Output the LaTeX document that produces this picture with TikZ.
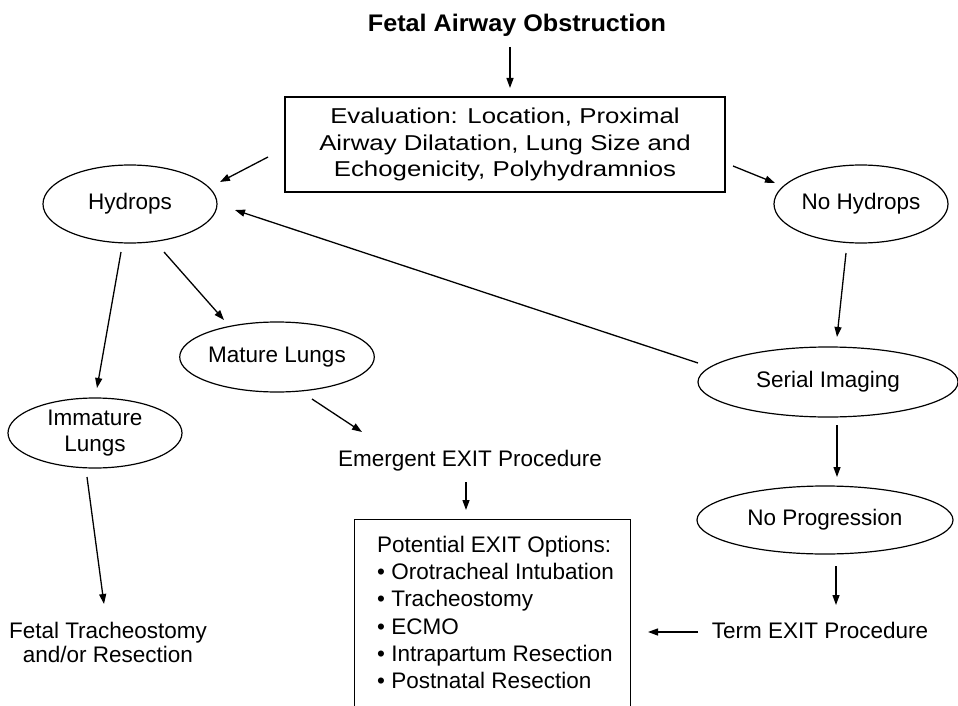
\documentclass[tikz,border=0pt]{standalone}
\usepackage{fontspec}
\setmainfont{Liberation Sans}
\newfontfamily\evalfont{Liberation Sans}[FakeStretch=1.2]
\newfontfamily\titlefont{Liberation Sans}[FakeStretch=1.05]
\usetikzlibrary{arrows.meta,shapes.geometric,calc}
\begin{document}
\begin{tikzpicture}[x=1pt,y=-1pt,
  oval/.style={ellipse, draw, line width=1.2pt, inner sep=0pt, align=center,
    font=\fontsize{22.5}{26}\selectfont},
  lbl/.style={inner sep=0pt, align=center, font=\fontsize{22.5}{23.5}\selectfont},
  arr/.style={line width=1.3pt, -{Triangle[length=10pt,width=7pt]}},
  frameline/.style={line width=1.3pt}]
\useasboundingbox[fill=white] (0,0) rectangle (958,706);

% nodes
\node[inner sep=0pt, font=\titlefont\bfseries\fontsize{24}{28}\selectfont] (title) at (517,25.5) {Fetal Airway Obstruction};
\node[draw, line width=1.4pt, minimum width=440pt, minimum height=95pt, inner sep=0pt, align=center,
  font=\evalfont\fontsize{21.5}{26.7}\selectfont] (eval) at (505,144.5)
  {Evaluation: Location, Proximal\\Airway Dilatation, Lung Size and\\Echogenicity, Polyhydramnios};
\node[oval, minimum width=174pt, minimum height=78pt] (hyd) at (130,204) {Hydrops};
\node[oval, minimum width=174pt, minimum height=78pt] (nohyd) at (861,204) {No Hydrops};
\node[oval, minimum width=174pt, minimum height=70pt] (mature) at (277,357) {Mature Lungs};
\node[oval, minimum width=174pt, minimum height=70pt] (immature) at (95,433) {Immature\\Lungs};
\node[oval, minimum width=260pt, minimum height=70pt] (serial) at (828,382) {Serial Imaging};
\node[oval, minimum width=256pt, minimum height=68pt] (noprog) at (825,520) {No Progression};
\node[lbl] (emergent) at (470,461) {Emergent EXIT Procedure};
\node[lbl] (term) at (820,630) {Term EXIT Procedure};
\node[lbl, anchor=north] (fetal) at (108,622) {Fetal Tracheostomy\\and/or Resection};
\node[minimum width=275pt, minimum height=196pt, inner sep=0pt] (frame) at (492.5,618) {};
\draw[frameline] (frame.south west) |- (frame.north east) -- (frame.south east);
\node[inner sep=0pt, anchor=north west, align=left, font=\fontsize{22.5}{27.2}\selectfont] (opts) at (377,536)
  {Potential EXIT Options:\\
   • Orotracheal Intubation\\
   • Tracheostomy\\
   • ECMO\\
   • Intrapartum Resection\\
   • Postnatal Resection};

% connectors
\draw[arr] ($(title)+(-7,21.5)$) -- ($(eval)+(5,-56.5)$);
\draw[arr] ($(eval)+(-237,12.5)$) -- ($(hyd)+(90,-22)$);
\draw[arr] ($(eval)+(228,21.5)$) -- ($(nohyd)+(-86,-21)$);
\draw[arr] ($(hyd)+(-9,48)$) -- ($(immature)+(2,-45)$);
\draw[arr] ($(hyd)+(34,48)$) -- ($(mature)+(-53,-37)$);
\draw[arr] ($(mature)+(35,42)$) -- ($(emergent)+(-108,-29)$);
\draw[arr] ($(emergent)+(-4,21)$) -- ($(frame)+(-26.5,-108)$);
\draw[arr] ($(immature)+(-8,44)$) -- ($(fetal.north)+(-4,-18)$);
\draw[arr] ($(nohyd)+(-15,49)$) -- ($(serial)+(9,-45)$);
\draw[arr] ($(serial)+(-130,-19)$) -- ($(hyd)+(105,6)$);
\draw[arr] ($(serial)+(9,43)$) -- ($(noprog)+(12,-43)$);
\draw[arr] ($(noprog)+(11,46)$) -- ($(term)+(16,-25)$);
\draw[arr] ($(term)+(-122,2)$) -- ($(frame)+(155.5,14)$);
\end{tikzpicture}
\end{document}
